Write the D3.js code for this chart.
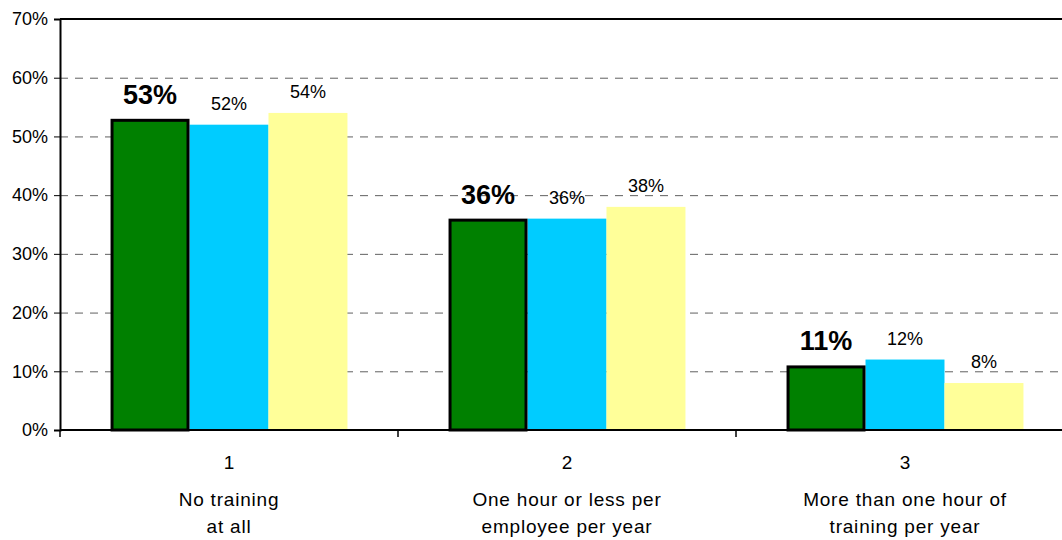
<!DOCTYPE html>
<html>
<head>
<meta charset="utf-8">
<script src="https://cdn.jsdelivr.net/npm/d3@7/dist/d3.min.js"></script>
<style>
  html, body { margin: 0; padding: 0; background: #fff; }
  svg { display: block; font-family: Arial, "Liberation Sans", sans-serif; }
</style>
</head>
<body>
<svg id="chart" width="1062" height="540"></svg>
<script>
// Training categories and the three survey series (percent)
const categories = ["1", "2", "3"];
const categoryLabels = [
  ["No training", "at all"],
  ["One hour or less per", "employee per year"],
  ["More than one hour of", "training per year"]
];
const seriesNames = ["A", "B", "C"];
const seriesA = [53, 36, 11];
const seriesB = [52, 36, 12];
const seriesC = [54, 38, 8];
const yTicks = [0, 10, 20, 30, 40, 50, 60, 70];
const seriesColors = ["#008000", "#00ccff", "#ffff99"];

const svg = d3.select("#chart");
const plotLeft = 60, plotRight = 1074, plotTop = 19, plotBottom = 430;

const x0 = d3.scaleBand().domain(categories).range([plotLeft, plotRight]).padding(0);
const x1 = d3.scaleBand().domain(seriesNames).range([0, x0.bandwidth()])
  .paddingInner(0).paddingOuter(0.64);
const y = d3.scaleLinear().domain([0, 70]).range([plotBottom, plotTop]);

const data = categories.map((c, i) => ({
  cat: c,
  vals: [seriesA[i], seriesB[i], seriesC[i]].map((v, j) => ({ key: seriesNames[j], v, j }))
}));

// Dashed gridlines
svg.append("g").selectAll("line")
  .data(yTicks.filter(t => t > 0 && t < 70))
  .join("line")
  .attr("x1", plotLeft).attr("x2", 1062)
  .attr("y1", d => y(d) + 0.5).attr("y2", d => y(d) + 0.5)
  .attr("stroke", "#606060").attr("stroke-width", 1)
  .attr("stroke-dasharray", "8,7");

// Top border of the plot area
svg.append("line")
  .attr("x1", plotLeft).attr("x2", 1062)
  .attr("y1", y(70)).attr("y2", y(70))
  .attr("stroke", "#000").attr("stroke-width", 2);

// Bars
const groups = svg.append("g").selectAll("g")
  .data(data).join("g")
  .attr("transform", d => `translate(${x0(d.cat)},0)`);

groups.selectAll("rect")
  .data(d => d.vals.slice().sort((a, b) => (a.j === 0) - (b.j === 0)))
  .join("rect")
  .attr("x", d => x1(d.key) + (d.j === 0 ? 1.5 : 0))
  .attr("y", d => y(d.v) + (d.j === 0 ? 1.5 : 0))
  .attr("width", d => x1.bandwidth() - (d.j === 0 ? 3 : 0))
  .attr("height", d => y(0) - y(d.v) - (d.j === 0 ? 1.5 : 0))
  .attr("fill", d => seriesColors[d.j])
  .attr("stroke", d => d.j === 0 ? "#000" : "none")
  .attr("stroke-width", 3);

// Value labels
groups.selectAll("text")
  .data(d => d.vals)
  .join("text")
  .attr("x", d => x1(d.key) + x1.bandwidth() / 2)
  .attr("y", d => y(d.v) - 15)
  .attr("text-anchor", "middle")
  .attr("font-size", d => d.j === 0 ? "27px" : "18px")
  .attr("font-weight", d => d.j === 0 ? "bold" : "normal")
  .attr("fill", "#000")
  .text(d => d.v + "%");

// Y axis
const yAxis = d3.axisLeft(y).tickValues(yTicks).tickFormat(d => d + "%")
  .tickSize(6).tickPadding(6);
const gy = svg.append("g").attr("transform", `translate(${plotLeft},0)`).call(yAxis);
gy.select(".domain").attr("stroke", "#000").attr("stroke-width", 2);
gy.selectAll(".tick line").attr("stroke", "#000");
gy.selectAll(".tick text").attr("font-size", "18px").attr("fill", "#000")
  .attr("font-family", "Arial, 'Liberation Sans', sans-serif");

// X axis baseline with ticks at category boundaries
const bounds = categories.map(c => x0(c)).concat([plotRight]);
svg.append("line")
  .attr("x1", plotLeft).attr("x2", 1062)
  .attr("y1", plotBottom).attr("y2", plotBottom)
  .attr("stroke", "#000").attr("stroke-width", 2);
svg.append("g").selectAll("line")
  .data(bounds).join("line")
  .attr("x1", d => d).attr("x2", d => d)
  .attr("y1", plotBottom).attr("y2", plotBottom + 7)
  .attr("stroke", "#000").attr("stroke-width", 1.5);

// Category numbers and descriptions
const catG = svg.append("g").selectAll("g")
  .data(categories).join("g")
  .attr("transform", c => `translate(${x0(c) + x0.bandwidth() / 2},0)`);
catG.append("text")
  .attr("y", 469).attr("text-anchor", "middle")
  .attr("font-size", "19px").attr("fill", "#000")
  .text(c => c);
catG.each(function (c, i) {
  const g = d3.select(this);
  categoryLabels[i].forEach((line, k) => {
    g.append("text")
      .attr("y", 506 + k * 27).attr("text-anchor", "middle")
      .attr("font-size", "19px").attr("letter-spacing", "0.8px")
      .attr("fill", "#000")
      .text(line);
  });
});
</script>
</body>
</html>
